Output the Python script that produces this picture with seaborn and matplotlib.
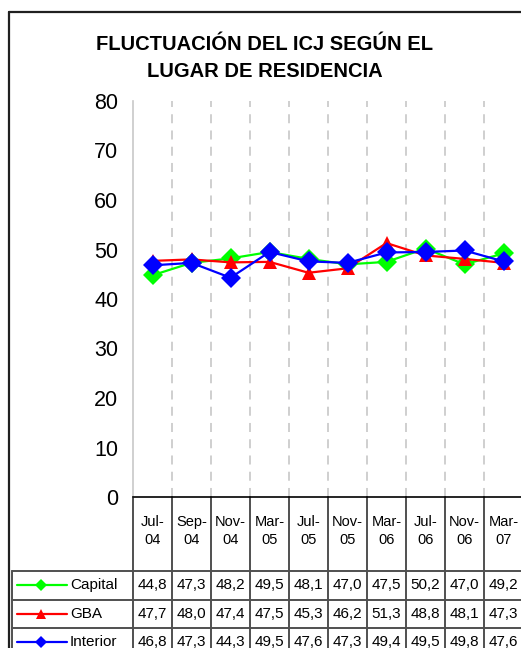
import numpy as np
import pandas as pd
import matplotlib
matplotlib.use("Agg")
import matplotlib.pyplot as plt
import matplotlib.transforms as mtransforms
from matplotlib.lines import Line2D
import seaborn as sns

# Data
periods = ["Jul-04", "Sep-04", "Nov-04", "Mar-05", "Jul-05",
           "Nov-05", "Mar-06", "Jul-06", "Nov-06", "Mar-07"]
capital = [44.8, 47.3, 48.2, 49.5, 48.1, 47.0, 47.5, 50.2, 47.0, 49.2]
gba = [47.7, 48.0, 47.4, 47.5, 45.3, 46.2, 51.3, 48.8, 48.1, 47.3]
interior = [46.8, 47.3, 44.3, 49.5, 47.6, 47.3, 49.4, 49.5, 49.8, 47.6]
series_names = ["Capital", "GBA", "Interior"]
title = "FLUCTUACIÓN DEL ICJ SEGÚN EL\nLUGAR DE RESIDENCIA"

colors = {"Capital": "#00FF00", "GBA": "#FF0000", "Interior": "#0000FF"}
markers = {"Capital": "D", "GBA": "^", "Interior": "D"}

# long-form frame for seaborn
df = pd.DataFrame({
    "idx": list(range(len(periods))) * 3,
    "periodo": periods * 3,
    "valor": capital + gba + interior,
    "serie": ["Capital"] * len(periods) + ["GBA"] * len(periods) + ["Interior"] * len(periods),
})

sns.set_style("white")
plt.rcParams["font.family"] = ["Liberation Sans", "DejaVu Sans"]
plt.rcParams["text.color"] = "black"

W, H = 521, 648
fig = plt.figure(figsize=(W / 100, H / 100), dpi=100)


def fx(px):
    return px / W


def fy(py):
    return 1 - py / H


ax = fig.add_axes([fx(133), fy(497), (523 - 133) / W, (497 - 101) / H])

sns.lineplot(data=df, x="idx", y="valor", hue="serie", style="serie",
             palette=colors, markers=markers, dashes=False,
             hue_order=series_names, style_order=series_names,
             markersize=10, markeredgewidth=0, linewidth=1.6,
             legend=False, ax=ax)

ax.set_xlim(-0.5, len(periods) - 0.5)
ax.set_ylim(0, 80)
ax.set_yticks(range(0, 81, 10))
ax.set_xticks([])
ax.set_xticks(np.arange(0.5, len(periods), 1), minor=True)
ax.tick_params(axis="x", which="both", length=0, labelbottom=False)
ax.tick_params(axis="y", length=5, width=1, color="#c0c0c0",
               labelsize=15.5, pad=5.5, labelcolor="black")
ax.grid(which="minor", axis="x", color="#cccccc", linewidth=1.3,
        linestyle=(0, (5, 4)))
ax.set_xlabel("")
ax.set_ylabel("")
sns.despine(ax=ax, top=True, right=True)
ax.spines["left"].set_color("#c8c8c8")
ax.spines["left"].set_linewidth(1.2)
ax.spines["bottom"].set_color("black")
ax.spines["bottom"].set_linewidth(1.2)

# title
fig.text(fx(265), fy(58), title, ha="center", va="center", fontsize=14.5,
         fontweight="bold", linespacing=1.55, color="black")

# outer chart border (left and top visible)
border_kw = dict(color="#202020", linewidth=1.6, transform=fig.transFigure)
fig.add_artist(Line2D([fx(9), fx(9)], [fy(12), fy(H + 5)], **border_kw))
fig.add_artist(Line2D([fx(9), fx(W + 5)], [fy(12), fy(12)], **border_kw))

# data table below the axis
blend = mtransforms.blended_transform_factory(ax.transData, fig.transFigure)
grid_kw = dict(color="#505050", linewidth=1.4)
row_top = 571
row_h = 28.5
n = len(periods)

for i in range(n + 1):
    ax.plot([i - 0.5, i - 0.5], [fy(497), fy(H + 5)], transform=blend,
            clip_on=False, **grid_kw)

for k in range(len(series_names) + 1):
    yy = fy(row_top + k * row_h)
    fig.add_artist(Line2D([fx(12), fx(W + 5)], [yy, yy],
                          transform=fig.transFigure, **grid_kw))
fig.add_artist(Line2D([fx(12), fx(12)], [fy(row_top), fy(H + 5)],
                      transform=fig.transFigure, **grid_kw))

for i, p in enumerate(periods):
    ax.text(i, fy(531), p.replace("-", "-\n"), transform=blend,
            ha="center", va="center", fontsize=10.5, linespacing=1.45,
            clip_on=False, color="black")

values = {"Capital": capital, "GBA": gba, "Interior": interior}
for k, name in enumerate(series_names):
    yc = fy(row_top + k * row_h + row_h / 2)
    for i, v in enumerate(values[name]):
        ax.text(i, yc, f"{v:.1f}".replace(".", ","), transform=blend,
                ha="center", va="center", fontsize=11, clip_on=False,
                color="black")
    fig.add_artist(Line2D([fx(17), fx(67)], [yc, yc], color=colors[name],
                          linewidth=1.6, transform=fig.transFigure))
    fig.add_artist(Line2D([fx(41)], [yc], color=colors[name],
                          marker=markers[name], markersize=6.5,
                          markeredgewidth=0, linestyle="none",
                          transform=fig.transFigure))
    fig.text(fx(70), yc, name, ha="left", va="center", fontsize=11,
             color="black")

fig.savefig("out.png", dpi=100)
